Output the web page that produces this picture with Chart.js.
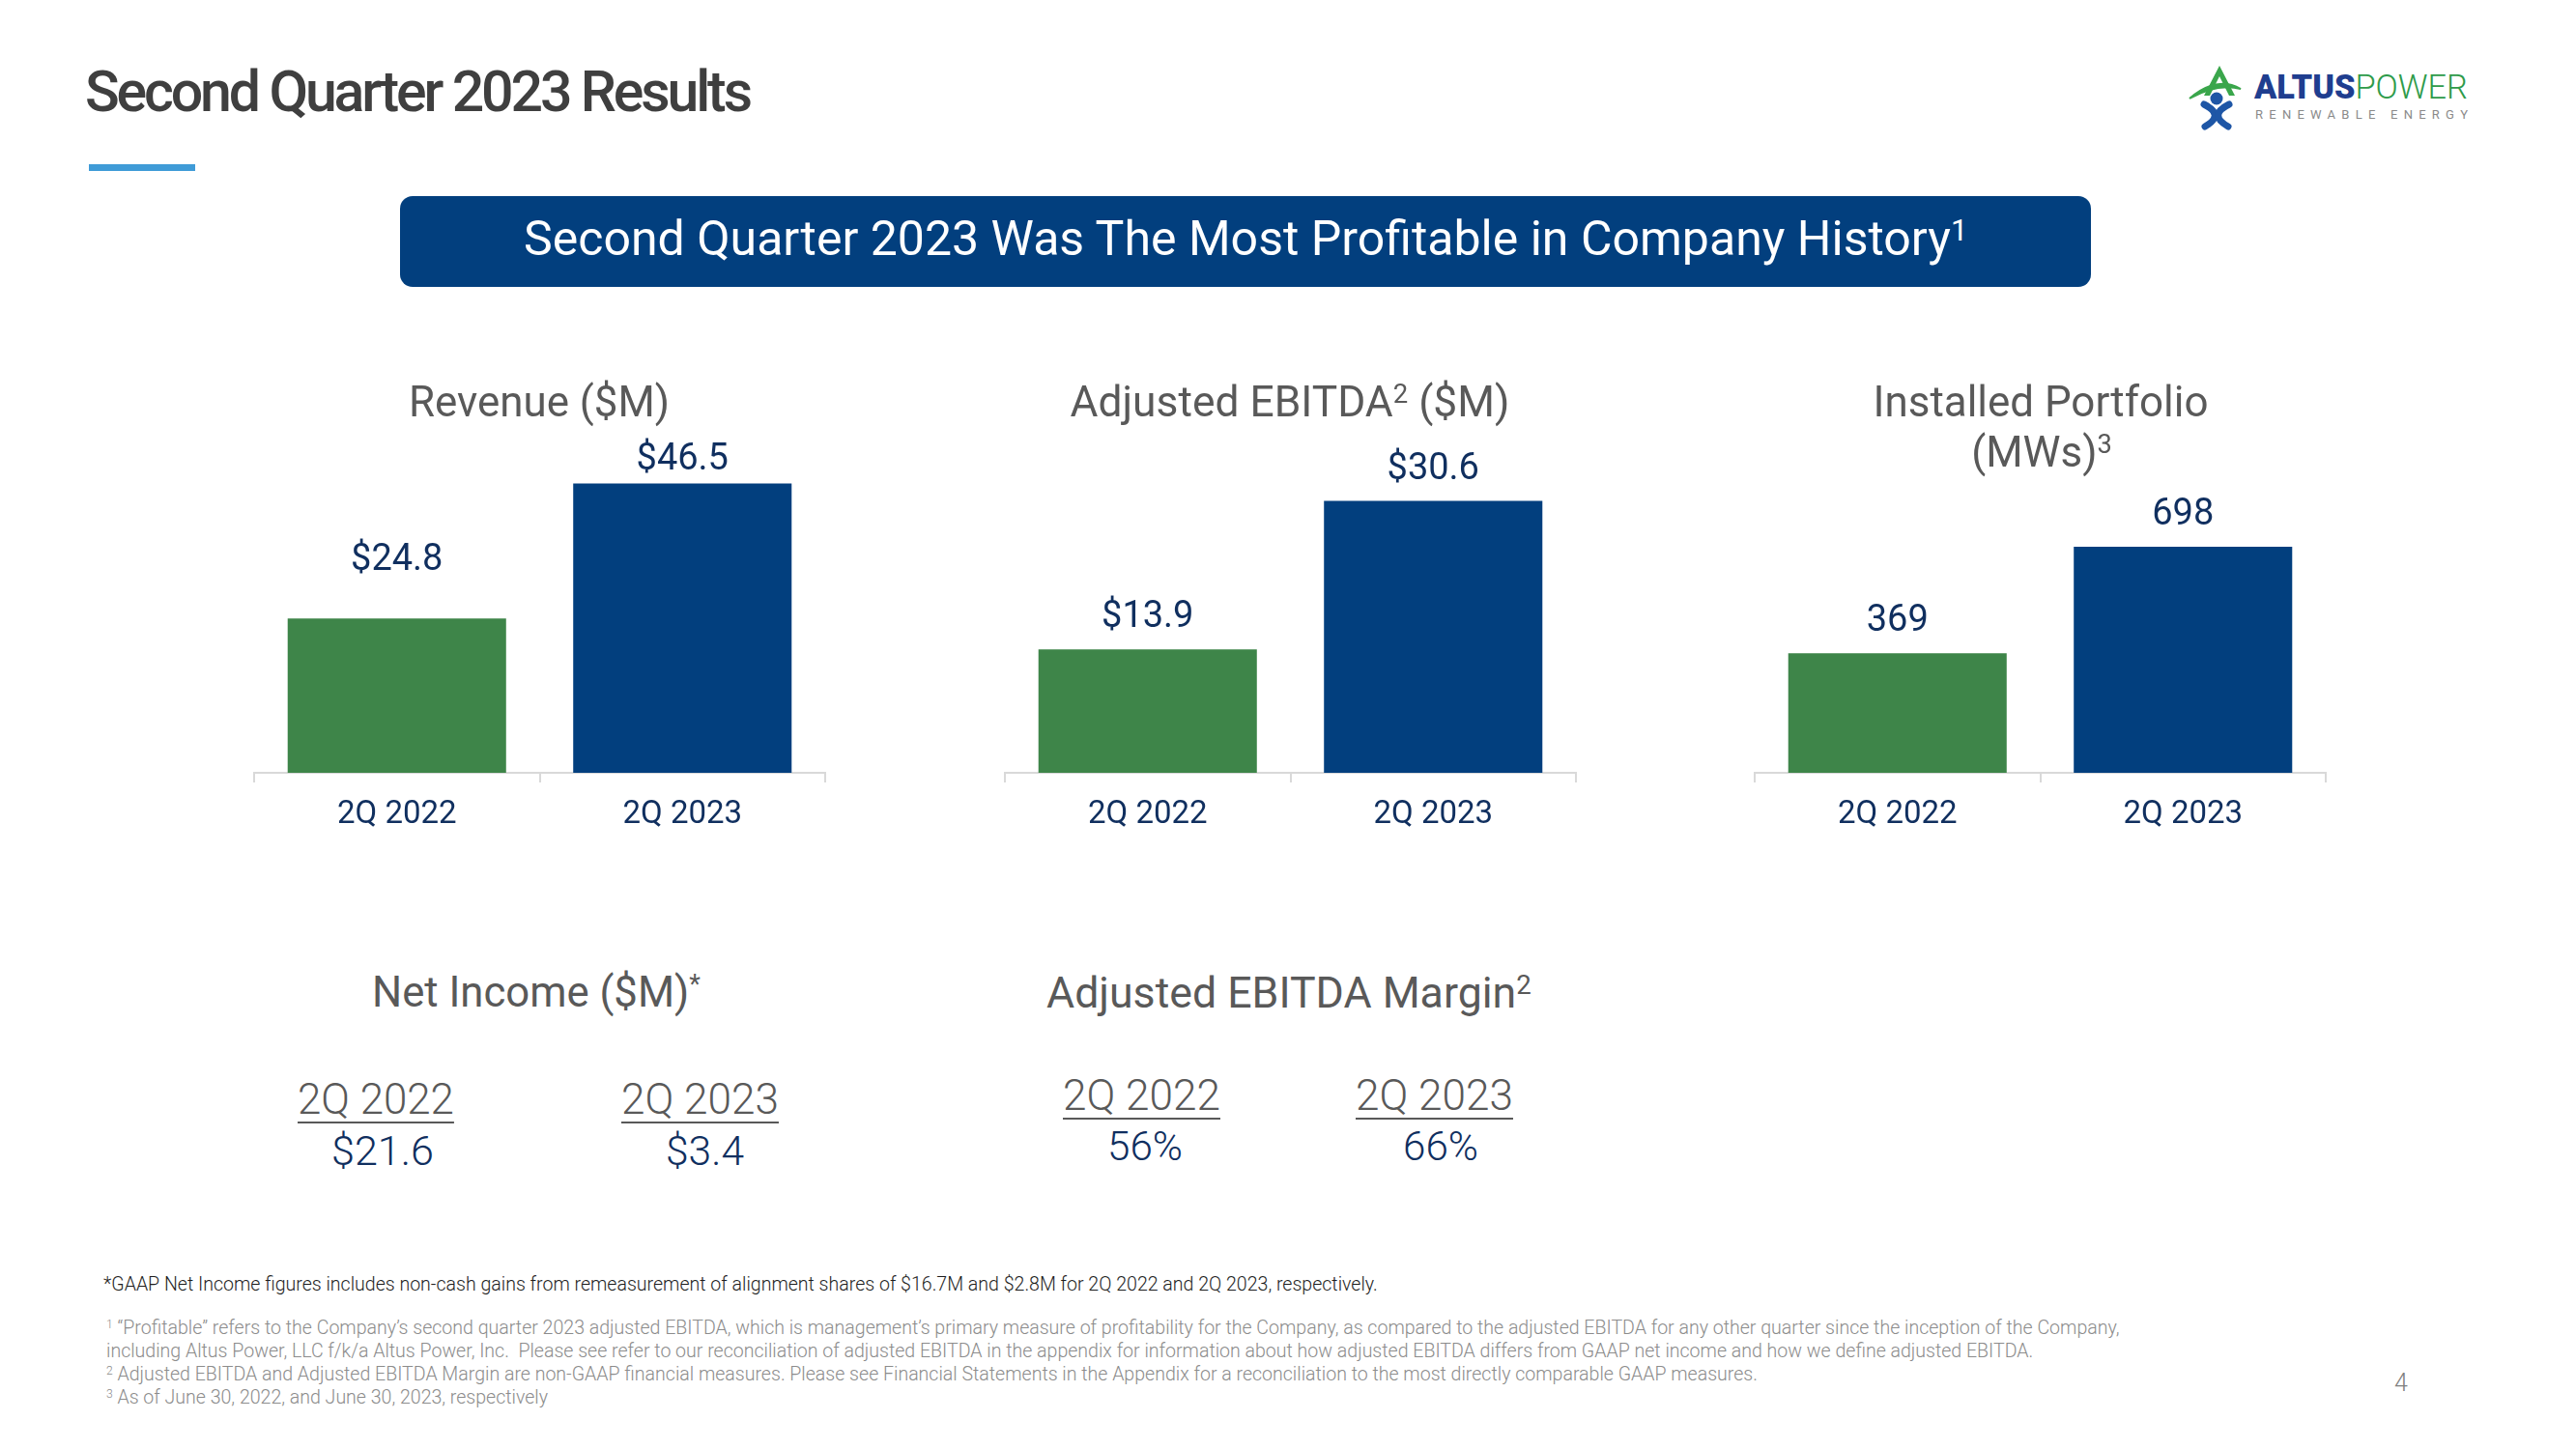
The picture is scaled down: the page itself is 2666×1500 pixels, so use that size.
<!DOCTYPE html>
<html><head><meta charset="utf-8">
<script src="https://cdn.jsdelivr.net/npm/chart.js@4.4.0/dist/chart.umd.min.js"></script>
<style>
html,body{margin:0;padding:0;background:#fff;width:2666px;height:1500px;overflow:hidden;position:relative;font-family:Roboto,sans-serif;}
.t{position:absolute;white-space:nowrap;line-height:1;}
.t sup{font-size:0.62em;vertical-align:0.5em;line-height:0;}
canvas{position:absolute;}
</style></head><body>
<div style="position:absolute;left:92px;top:170px;width:110px;height:7px;background:#3F9BD7"></div>
<div style="position:absolute;left:414px;top:203px;width:1750px;height:94px;border-radius:13px;background:#023F7E"></div>
<svg style="position:absolute;left:0;top:0" width="2666" height="200" viewBox="0 0 2666 200">
  <path d="M2297,68 L2281,99 L2287,99 L2297,79 L2307,99 L2313,99 Z" fill="#3AA64B"/>
  <path d="M2266,102 Q2294,78 2319,92 Q2294,86 2266,102 Z" fill="#3AA64B" stroke="#3AA64B" stroke-width="2"/>
  <circle cx="2294" cy="102" r="6.5" fill="#1E56A6"/>
  <path d="M2281,108 Q2303,119 2282,131" fill="none" stroke="#1E56A6" stroke-width="7" stroke-linecap="round"/>
  <path d="M2307,108 Q2285,119 2306,131" fill="none" stroke="#1E56A6" stroke-width="7" stroke-linecap="round"/>
</svg>
<canvas id="cRevenue" width="595" height="440" style="left:261px;top:440px"></canvas>
<canvas id="cEbitda" width="595" height="440" style="left:1038px;top:440px"></canvas>
<canvas id="cPortfolio" width="595" height="440" style="left:1814px;top:440px"></canvas>
<script>
// ---------------- data ----------------
const categories = ['2Q 2022', '2Q 2023'];
const revenueValues = [24.8, 46.5];          // $M
const ebitdaValues = [13.9, 30.6];           // $M
const portfolioValues = [369, 698];          // MWs
const netIncomeValues = [21.6, 3.4];         // $M
const ebitdaMarginValues = [56, 66];         // %
const chartTitles = ['Revenue ($M)', 'Adjusted EBITDA<sup>2</sup> ($M)', 'Installed Portfolio', '(MWs)<sup>3</sup>'];

// ---------------- styles ----------------
const NAVY = '#102F5F';
const GREEN = '#3E8549';
const BLUE = '#023F7E';
const GRAY_TITLE = '#595959';
const AXIS = '#D9D9D9';

const money = v => '$' + v.toFixed(1);
const plain = v => String(v);
const pct = v => v + '%';

// ---------------- text helper ----------------
function put(html, o) {
  const el = document.createElement('div');
  el.className = 't';
  el.innerHTML = html;
  el.style.fontFamily = o.font || 'Roboto';
  el.style.fontWeight = o.w || 400;
  el.style.color = o.c || '#000';
  el.style.fontSize = o.f + 'px';
  el.style.left = '0px'; el.style.top = '0px';
  if (o.css) Object.assign(el.style, o.css);
  document.body.appendChild(el);
  let fs = o.f;
  if (o.width) {
    const w = el.getBoundingClientRect().width;
    if (o.fit === 'spacing') {
      const n = el.textContent.length - 1;
      el.style.letterSpacing = ((o.width - w) / n) + 'px';
    } else {
      fs = o.f * o.width / w;
      el.style.fontSize = fs + 'px';
    }
  }
  const m = document.createElement('span');
  m.style.display = 'inline-block'; m.style.width = '0px'; m.style.height = '0px'; m.style.verticalAlign = 'baseline';
  el.insertBefore(m, el.firstChild);
  const r = el.getBoundingClientRect();
  const base = m.getBoundingClientRect().bottom - r.top;
  let left = o.x;
  if (o.align === 'center') left = o.x - r.width / 2;
  el.style.left = left + 'px';
  el.style.top = (o.y - base) + 'px';
  return fs;
}

// ---------------- header ----------------
put('Second Quarter 2023 Results', {x: 88, y: 115, f: 59, w: 500, c: '#3F3F3F', width: 691, fit: 'spacing'});
put('Second Quarter 2023 Was The Most Profitable in Company History<sup>1</sup>', {x: 542, y: 264, f: 45, c: '#FFFFFF', width: 1495});
put('<span style="font-weight:900;color:#1F3E8F">ALTUS</span><span style="font-weight:300;color:#2E9B4A">POWER</span>', {x: 2333, y: 102, f: 32, width: 221});
put('RENEWABLE ENERGY', {x: 2334, y: 123, f: 13, c: '#8A8A8A', width: 220, fit: 'spacing'});

// ---------------- chart titles ----------------
put(chartTitles[0], {x: 558, y: 431, f: 44, c: GRAY_TITLE, width: 270, align: 'center'});
put(chartTitles[1], {x: 1335, y: 431, f: 44, c: GRAY_TITLE, width: 455, align: 'center'});
const ipf = put(chartTitles[2], {x: 2112, y: 431, f: 44, c: GRAY_TITLE, width: 347, align: 'center'});
put(chartTitles[3], {x: 2113, y: 483, f: ipf, c: GRAY_TITLE, align: 'center'});

// ---------------- charts ----------------
function labelPlugin(labels, gaps) {
  return {
    id: 'valueLabels',
    afterDatasetsDraw(chart) {
      const ctx = chart.ctx;
      const meta = chart.getDatasetMeta(0);
      ctx.save();
      ctx.font = '400 38px Roboto';
      ctx.fillStyle = NAVY;
      ctx.textAlign = 'center';
      ctx.textBaseline = 'alphabetic';
      meta.data.forEach((bar, i) => ctx.fillText(labels[i], bar.x, bar.y - gaps[i]));
      ctx.restore();
    }
  };
}

function barChart(id, values, fmt, yMax, gaps) {
  return new Chart(document.getElementById(id), {
    type: 'bar',
    data: {
      labels: categories,
      datasets: [{
        data: values,
        backgroundColor: [GREEN, BLUE],
        borderWidth: 0,
        barPercentage: 0.765,
        categoryPercentage: 1
      }]
    },
    options: {
      responsive: false,
      animation: false,
      devicePixelRatio: 1,
      layout: {padding: {top: 40, left: 2, right: 2, bottom: 0}},
      plugins: {legend: {display: false}, tooltip: {enabled: false}},
      scales: {
        x: {
          offset: true,
          grid: {display: true, drawOnChartArea: false, drawTicks: true, tickLength: 10,
                 tickWidth: 2, tickColor: AXIS, color: AXIS, lineWidth: 2, offset: true},
          border: {display: true, color: AXIS, width: 2},
          ticks: {color: NAVY, font: {family: 'Roboto', size: 33}, padding: 14},
          afterFit: s => { s.height = 80; }
        },
        y: {display: false, min: 0, max: yMax}
      }
    },
    plugins: [labelPlugin(values.map(fmt), gaps)]
  });
}

barChart('cRevenue', revenueValues, money, 49.7, [50, 15]);
barChart('cEbitda', ebitdaValues, money, 34.8, [23, 23]);
barChart('cPortfolio', portfolioValues, plain, 955, [23, 23]);

// ---------------- bottom KPIs ----------------
put('Net Income ($M)<sup>*</sup>', {x: 385, y: 1042, f: 44, c: GRAY_TITLE, width: 340});
put('Adjusted EBITDA Margin<sup>2</sup>', {x: 1083, y: 1043, f: 44, c: GRAY_TITLE, width: 502});

const ulCss = {textDecoration: 'underline', textDecorationThickness: '2px', textUnderlineOffset: '8px'};
put(categories[0], {x: 308, y: 1153, f: 40, w: 300, c: GRAY_TITLE, width: 162, css: ulCss});
put(categories[1], {x: 643, y: 1153, f: 40, w: 300, c: GRAY_TITLE, width: 163, css: ulCss});
put(money(netIncomeValues[0]), {x: 343, y: 1206, f: 40, w: 300, c: NAVY, width: 106});
put(money(netIncomeValues[1]), {x: 689, y: 1206, f: 40, w: 300, c: NAVY, width: 81});

put(categories[0], {x: 1100, y: 1149, f: 40, w: 300, c: GRAY_TITLE, width: 163, css: ulCss});
put(categories[1], {x: 1403, y: 1149, f: 40, w: 300, c: GRAY_TITLE, width: 163, css: ulCss});
put(pct(ebitdaMarginValues[0]), {x: 1146, y: 1201, f: 40, w: 300, c: NAVY, width: 78});
put(pct(ebitdaMarginValues[1]), {x: 1452, y: 1201, f: 40, w: 300, c: NAVY, width: 78});

// ---------------- footnotes ----------------
put('*GAAP Net Income figures includes non-cash gains from remeasurement of alignment shares of $16.7M and $2.8M for 2Q 2022 and 2Q 2023, respectively.',
    {x: 107, y: 1336, f: 18, w: 300, c: '#1E1E1E', width: 1320});
const fn = put('<sup>1</sup> \u201CProfitable\u201D refers to the Company\u2019s second quarter 2023 adjusted EBITDA, which is management\u2019s primary measure of profitability for the Company, as compared to the adjusted EBITDA for any other quarter since the inception of the Company,',
    {x: 110, y: 1381, f: 18, w: 300, c: '#8C8C8C', width: 2085});
put('including Altus Power, LLC f/k/a Altus Power, Inc.&nbsp; Please see refer to our reconciliation of adjusted EBITDA in the appendix for information about how adjusted EBITDA differs from GAAP net income and how we define adjusted EBITDA.',
    {x: 110, y: 1405, f: fn, w: 300, c: '#8C8C8C'});
put('<sup>2</sup> Adjusted EBITDA and Adjusted EBITDA Margin are non-GAAP financial measures. Please see Financial Statements in the Appendix for a reconciliation to the most directly comparable GAAP measures.',
    {x: 110, y: 1429, f: fn, w: 300, c: '#8C8C8C'});
put('<sup>3</sup> As of June 30, 2022, and June 30, 2023, respectively',
    {x: 110, y: 1453, f: fn, w: 300, c: '#8C8C8C'});
put('4', {x: 2485, y: 1440, f: 25, w: 300, c: '#7F7F7F', align: 'center'});
</script>
</body></html>
